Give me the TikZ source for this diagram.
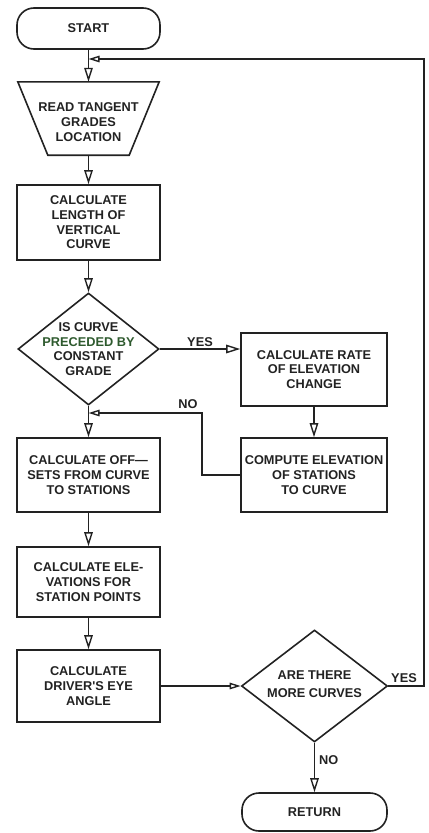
\documentclass[tikz,border=0pt]{standalone}
\usepackage{fontspec}
\setmainfont{Liberation Sans}
\usetikzlibrary{shapes.geometric,arrows.meta,calc}
\definecolor{ink}{HTML}{222222}
\definecolor{greenink}{HTML}{2E5A2E}
\begin{document}
\begin{tikzpicture}[x=1bp,y=-1bp,
  every node/.style={font=\bfseries\fontsize{12.8}{14.7}\selectfont, text=ink, align=center},
  ln/.style={draw=ink, line width=1.6bp},
  box/.style={ln, rectangle, inner sep=0pt},
  term/.style={box, rounded corners=17bp},
  dia/.style={ln, diamond, inner sep=0pt},
  ghost/.style={rectangle, inner sep=0pt},
  arr/.style={ln, -{Triangle[open, length=14bp, width=8.5bp, line width=1.4bp]}},
  sarr/.style={ln, -{Triangle[open, length=11bp, width=6.5bp, line width=1.4bp]}},
  lbl/.style={inner sep=2bp}
]
\useasboundingbox (0,0) rectangle (428,833);

% nodes
\node[term, minimum width=143bp, minimum height=41bp] (start) at (88.5,28.5) {START};
\node[ghost, minimum width=141bp, minimum height=73bp] (read) at (88.5,118.5) {};
\draw[ln] (read.north west) -- (read.north east) -- ($(read.south east)+(-30,0)$) -- ($(read.south west)+(30,0)$) -- cycle;
\node (readtxt) at (88.5,122) {READ TANGENT\\GRADES\\LOCATION};
\node[box, minimum width=143bp, minimum height=75bp] (len) at (88.5,222.5) {CALCULATE\\LENGTH OF\\VERTICAL\\CURVE};
\node[dia, minimum width=141bp, minimum height=112bp] (d1) at (88.5,349) {};
\node (d1txt) at (d1.center) {IS CURVE\\\textcolor{greenink}{PRECEDED BY}\\CONSTANT\\GRADE};
\node[box, minimum width=146bp, minimum height=73bp] (rate) at (314,369.5) {CALCULATE RATE\\OF ELEVATION\\CHANGE};
\node[box, minimum width=146bp, minimum height=74bp] (comp) at (314,475) {COMPUTE ELEVATION\\OF STATIONS\\TO CURVE};
\node[box, minimum width=143bp, minimum height=74bp] (off) at (88.5,475) {CALCULATE OFF---\\SETS FROM CURVE\\TO STATIONS};
\node[box, minimum width=143bp, minimum height=70bp] (elev) at (88.5,582) {CALCULATE ELE-\\VATIONS FOR\\STATION POINTS};
\node[box, minimum width=143bp, minimum height=72bp] (eye) at (88.5,686) {CALCULATE\\DRIVER\textquotesingle S EYE\\ANGLE};
\node[dia, minimum width=146bp, minimum height=112bp] (d2) at (314.5,686) {};
\node (d2txt) at (314.5,684) {ARE THERE\\[3bp]MORE CURVES};
\node[term, minimum width=145bp, minimum height=38bp] (ret) at (314.5,812) {RETURN};

% coordinates
\coordinate (j1) at (88.5,59);
\coordinate (fb) at (424,59);
\coordinate (j2) at (88.5,413);
\coordinate (nox) at (202,413);

% connectors
\draw[arr] (start.south) -- (read.north);
\draw[sarr] (d2.east) -| (fb) -- (j1);
\draw[arr] (read.south) -- (len.north);
\draw[arr] (len.south) -- (d1.north);
\draw[arr] (d1.east) -- (d1.east -| rate.west) node[lbl, midway, above] (yes1) {YES};
\draw[arr] (rate.south) -- (comp.north);
\draw[sarr] (comp.west) -| (nox) -- (j2);
\node[lbl] (no1) at (188,404) {NO};
\draw[arr] (d1.south) -- (off.north);
\draw[arr] (off.south) -- (elev.north);
\draw[arr] (elev.south) -- (eye.north);
\draw[sarr] (eye.east) -- (d2.west);
\node[lbl] (yes2) at (404,678) {YES};
\draw[arr] (d2.south) -- (ret.north);
\node[lbl, anchor=west] (no2) at (317,760) {NO};
\end{tikzpicture}
\end{document}
